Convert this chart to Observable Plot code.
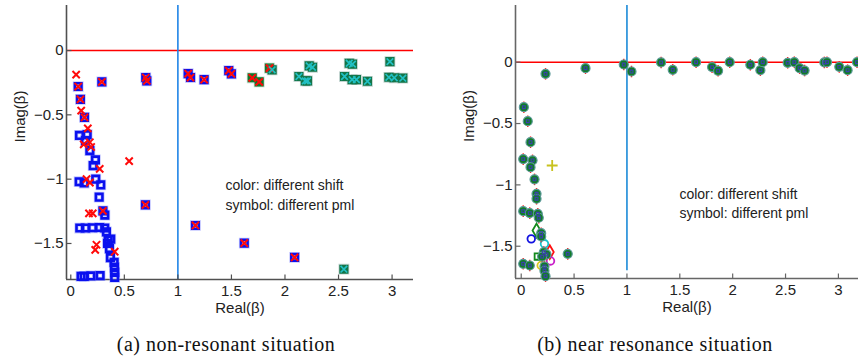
<!DOCTYPE html>
<html><head><meta charset="utf-8">
<script src="https://cdn.jsdelivr.net/npm/d3@7"></script>
<script src="https://cdn.jsdelivr.net/npm/@observablehq/plot@0.6"></script>
<style>
body{margin:0;background:#fff;}
#wrap{display:flex;width:858px;height:356px;overflow:hidden;}
.panel{width:429px;}
.cap{font-family:"Liberation Serif","DejaVu Serif",serif;font-size:20px;letter-spacing:0.5px;text-align:center;padding-left:23px;padding-top:2px;line-height:24px;color:#111;white-space:nowrap;}
</style></head><body>
<div id="wrap"><div class="panel" id="pa"></div><div class="panel" id="pb"></div></div>
<script>
// ---------- data ----------
const xTicks = [0, 0.5, 1, 1.5, 2, 2.5, 3];
const yTicks = [0, -0.5, -1, -1.5];
const xLabel = "Real(β)";
const yLabel = "Imag(β)";
const noteText = "color: different shift\nsymbol: different pml";
const captionA = "(a) non-resonant situation";
const captionB = "(b) near resonance situation";
const noteA = [[1.444, -1.113]];
const noteB = [[1.496, -1.143]];
const refReal = [1];
const refImag = [0];

// panel (a)
const aBlueSquares = [
  [0.069,-0.28],[0.29,-0.244],[0.70,-0.21],[0.71,-0.236],[1.096,-0.18],[1.118,-0.21],[1.245,-0.226],
  [0.09,-0.38],[0.128,-0.52],[0.081,-0.66],[0.153,-0.654],[0.137,-0.70],[0.178,-0.778],[0.23,-0.85],
  [0.209,-0.895],[0.078,-1.02],[0.125,-1.03],[0.233,-1.0],[0.28,-1.045],[0.265,-1.14],[0.697,-1.2],
  [1.164,-1.36],[0.30,-1.247],[0.318,-1.279],[0.084,-1.38],[0.137,-1.38],[0.203,-1.378],[0.268,-1.376],
  [0.317,-1.38],[0.333,-1.41],[0.349,-1.473],[0.373,-1.466],[0.343,-1.5],[0.361,-1.54],[0.37,-1.61],
  [0.405,-1.647],[0.408,-1.686],[0.41,-1.725],[0.41,-1.764],[0.096,-1.756],[0.125,-1.756],[0.187,-1.752],
  [0.274,-1.75],[1.475,-0.156],[1.5,-0.181],[1.62,-1.497],[2.09,-1.608]
];
const aRedCrosses = [
  [0.05,-0.187],[0.069,-0.28],[0.29,-0.244],[0.70,-0.21],[0.71,-0.236],[1.096,-0.18],[1.118,-0.21],
  [1.245,-0.226],[0.09,-0.38],[0.097,-0.467],[0.128,-0.52],[0.159,-0.605],[0.178,-0.713],[0.121,-0.73],
  [0.19,-0.75],[0.545,-0.86],[0.27,-0.92],[0.147,-1.0],[0.178,-1.027],[0.697,-1.2],[1.164,-1.36],
  [0.17,-1.266],[0.205,-1.266],[0.30,-1.247],[0.24,-1.51],[0.228,-1.55],[0.41,-1.564],[1.475,-0.156],
  [1.5,-0.181],[1.62,-1.497],[2.09,-1.608],[1.694,-0.212],[1.759,-0.244],[1.855,-0.137]
];
const aGreenSquares = [[1.694,-0.212],[1.759,-0.244],[1.855,-0.137]];
const aTealSquares = [
  [1.88,-0.15],[2.13,-0.202],[2.19,-0.236],[2.21,-0.236],[2.226,-0.119],[2.257,-0.13],[2.6,-0.099],
  [2.63,-0.106],[2.556,-0.202],[2.627,-0.226],[2.667,-0.226],[2.77,-0.239],[2.98,-0.086],[2.97,-0.208],
  [3.02,-0.212],[3.1,-0.215],[2.55,-1.70]
];

// panel (b)
const bMain = [
  [0.23,-0.095],[0.608,-0.049],[0.97,-0.019],[1.043,-0.076],[0.025,-0.367],[0.062,-0.481],[0.088,-0.652],
  [0.019,-0.79],[0.107,-0.80],[0.088,-0.856],[0.126,-0.955],[0.145,-1.073],[0.145,-1.113],[0.019,-1.214],
  [0.081,-1.23],[0.157,-1.236],[0.166,-1.268],[0.189,-1.394],[0.189,-1.42],[0.214,-1.548],[0.239,-1.567],
  [0.198,-1.584],[0.44,-1.562],[0.019,-1.643],[0.081,-1.657],[0.22,-1.665],[0.22,-1.70],[0.23,-1.744],
  [1.323,-0.002],[1.433,-0.062],[1.654,0],[1.805,-0.04],[1.862,-0.07],[1.972,0],[2.167,-0.021],
  [2.262,-0.065],[2.284,0],[2.52,-0.005],[2.583,0],[2.633,-0.049],[2.68,-0.068],[2.867,-0.002],
  [2.892,0],[3.008,-0.038],[3.087,-0.065],[3.176,0]
];
const bYellowPlus = [[0.293,-0.842]];
const bGreenDiamond = [[0.145,-1.372]];
const bRedDiamond = [[0.27,-1.548]];
const bBlueCircle = [[0.095,-1.44]];
const bCyanCircle = [[0.22,-1.48]];
const bMagentaCircle = [[0.277,-1.62]];
const bYellowCircle = [[0.189,-1.657]];
const bGreenSquare = [[0.157,-1.584]];
const bBlueLineEnd = [-1.7];

// ---------- drawing ----------
const pts = a => a.map(([x, y]) => ({x, y}));
const fmt = d => (d < 0 ? "\u2212" + Math.abs(d) : String(d));
const font = "Liberation Sans, Arial, Helvetica, sans-serif";
// custom marker shapes
const tickUp = {draw(ctx) { ctx.moveTo(0, 0); ctx.lineTo(0, -5); }};
const tickRight = {draw(ctx) { ctx.moveTo(0, 0); ctx.lineTo(5, 0); }};
const vBar = {draw(ctx, size) { const r = Math.sqrt(size / Math.PI); ctx.moveTo(0, -r); ctx.lineTo(0, r); }};

function frameMarks(xDom, yDom, axisColor) {
  return [
    Plot.ruleX([xDom[0]], {stroke: axisColor, strokeWidth: 1.6}),
    Plot.ruleY([yDom[0]], {stroke: axisColor, strokeWidth: 1.6}),
    Plot.dot(xTicks, {x: d => d, frameAnchor: "bottom", symbol: tickUp, stroke: axisColor, strokeWidth: 1.2}),
    Plot.dot(yTicks, {y: d => d, frameAnchor: "left", symbol: tickRight, stroke: axisColor, strokeWidth: 1.2}),
    Plot.axisX(xTicks, {tickSize: 0, tickPadding: 6, tickFormat: fmt, color: "#222", label: null}),
    Plot.axisY(yTicks, {tickSize: 0, tickPadding: 3, tickFormat: fmt, color: "#222", label: null}),
    Plot.text([xLabel], {frameAnchor: "bottom", dy: 29, lineAnchor: "middle", fontSize: 15, fill: "#222"}),
    Plot.text([yLabel], {frameAnchor: "left", dx: -46, rotate: -90, lineAnchor: "middle", fontSize: 15, fill: "#222"})
  ];
}

// panel (a)
const xDomA = [-0.04, 3.2], yDomA = [-1.78, 0.35];
const plotA = Plot.plot({
  width: 429, height: 330,
  marginLeft: 66, marginRight: 16, marginTop: 5, marginBottom: 51,
  x: {domain: xDomA}, y: {domain: yDomA},
  style: {fontFamily: font, fontSize: "15px", background: "white", overflow: "visible"},
  marks: [
    Plot.ruleY(refImag, {stroke: "#ff0000", strokeWidth: 1.6}),
    Plot.ruleX(refReal, {stroke: "#1f84e6", strokeWidth: 1.6}),
    ...frameMarks(xDomA, yDomA, "#505050"),
    Plot.dot(pts(aBlueSquares), {x: "x", y: "y", symbol: "square", r: 3.7, stroke: "#8088ff", strokeOpacity: 0.45, strokeWidth: 4.2, fill: "none"}),
    Plot.dot(pts(aBlueSquares), {x: "x", y: "y", symbol: "square", r: 3.7, stroke: "#0a10ee", strokeWidth: 2.6, fill: "none"}),
    Plot.dot(pts(aGreenSquares), {x: "x", y: "y", symbol: "square", r: 3.7, stroke: "#7aa888", strokeOpacity: 0.45, strokeWidth: 4.2, fill: "none"}),
    Plot.dot(pts(aGreenSquares), {x: "x", y: "y", symbol: "square", r: 3.7, stroke: "#0c7a2c", strokeWidth: 2.6, fill: "#0c7a2c"}),
    Plot.dot(pts(aTealSquares), {x: "x", y: "y", symbol: "square", r: 3.7, stroke: "#88aaa4", strokeOpacity: 0.5, strokeWidth: 4.2, fill: "none"}),
    Plot.dot(pts(aTealSquares), {x: "x", y: "y", symbol: "square", r: 3.7, stroke: "#127548", strokeWidth: 2.6, fill: "#127548"}),
    Plot.dot(pts(aRedCrosses), {x: "x", y: "y", symbol: "times", r: 3.4, stroke: "#ff0a0a", strokeWidth: 2}),
    Plot.dot(pts(aTealSquares), {x: "x", y: "y", symbol: "times", r: 3.1, stroke: "#22c0c4", strokeWidth: 1.7}),
    Plot.text(pts(noteA), {x: "x", y: "y", text: () => noteText, textAnchor: "start", lineHeight: 1.39, fontSize: 14, fill: "#222"})
  ]
});

// panel (b)
const xDomB = [-0.054, 3.19], yDomB = [-1.763, 0.462];
const plotB = Plot.plot({
  width: 429, height: 330,
  marginLeft: 86, marginRight: 0, marginTop: 5, marginBottom: 52,
  x: {domain: xDomB}, y: {domain: yDomB},
  style: {fontFamily: font, fontSize: "15px", background: "white", overflow: "visible"},
  marks: [
    Plot.ruleY(refImag, {stroke: "#ff0000", strokeWidth: 1.6}),
    Plot.ruleX(refReal, {y1: bBlueLineEnd[0], y2: yDomB[1], stroke: "#1a8ad8", strokeWidth: 1.6}),
    ...frameMarks(xDomB, yDomB, "#666"),
    Plot.dot(pts(bYellowPlus), {x: "x", y: "y", symbol: "plus", r: 3.6, stroke: "#c8c21e", strokeWidth: 1.8}),
    Plot.dot(pts(bGreenDiamond), {x: "x", y: "y", symbol: "diamond", r: 4.2, stroke: "#138a1c", strokeWidth: 1.8, fill: "none"}),
    Plot.dot(pts(bRedDiamond), {x: "x", y: "y", symbol: "diamond", r: 4.2, stroke: "#ff1010", strokeWidth: 1.8, fill: "none"}),
    Plot.dot(pts(bBlueCircle), {x: "x", y: "y", r: 3.8, stroke: "#1212e0", strokeWidth: 1.8, fill: "none"}),
    Plot.dot(pts(bCyanCircle), {x: "x", y: "y", r: 3.8, stroke: "#18c4cc", strokeWidth: 1.8, fill: "none"}),
    Plot.dot(pts(bMagentaCircle), {x: "x", y: "y", r: 3.8, stroke: "#c81ec8", strokeWidth: 1.8, fill: "none"}),
    Plot.dot(pts(bYellowCircle), {x: "x", y: "y", r: 3.8, stroke: "#d8c81e", strokeWidth: 1.8, fill: "none"}),
    Plot.dot(pts(bGreenSquare), {x: "x", y: "y", symbol: "square", r: 3.6, stroke: "#138a1c", strokeWidth: 1.8, fill: "none"}),
    Plot.dot(pts(bMain), {x: "x", y: "y", symbol: vBar, r: 5.8, stroke: "#ff2020", strokeWidth: 1.4}),
    Plot.dot(pts(bMain), {x: "x", y: "y", r: 4.5, fill: "#127c28", stroke: "#5a9898", strokeWidth: 1.2}),
    Plot.dot(pts(bMain), {x: "x", y: "y", symbol: "square", r: 1.6, stroke: "#3a3fb0", strokeWidth: 1.1, fill: "none"}),
    Plot.text(pts(noteB), {x: "x", y: "y", text: () => noteText, textAnchor: "start", lineHeight: 1.39, fontSize: 14, fill: "#222"})
  ]
});

function addPanel(id, plot, caption) {
  const el = document.getElementById(id);
  el.appendChild(plot);
  const c = document.createElement("div");
  c.className = "cap";
  c.textContent = caption;
  el.appendChild(c);
}
addPanel("pa", plotA, captionA);
addPanel("pb", plotB, captionB);
</script>
</body></html>
